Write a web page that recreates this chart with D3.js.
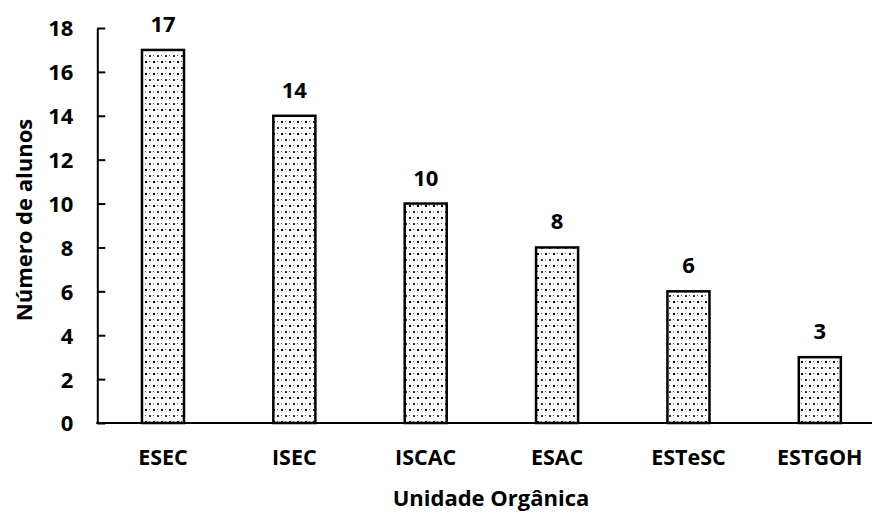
<!DOCTYPE html>
<html><head><meta charset="utf-8">
<script src="https://cdn.jsdelivr.net/npm/d3@7"></script>
<style>body{margin:0;background:#fff}</style>
</head><body>
<svg id="c" width="872" height="513"></svg>
<script>
const categories = ["ESEC","ISEC","ISCAC","ESAC","ESTeSC","ESTGOH"];
const values = [17,14,10,8,6,3];
const yTicks = [0,2,4,6,8,10,12,14,16,18];

const svg = d3.select("#c");
const font = "'Open Sans', sans-serif";
const x = d3.scaleBand().domain(categories).range([97.3, 885.5]).paddingInner(0.68).paddingOuter(0.34);
const y = d3.scaleLinear().domain([0,18]).range([423, 28]);

const defs = svg.append("defs");
const pat = defs.append("pattern").attr("id","dots").attr("patternUnits","userSpaceOnUse")
  .attr("width",8).attr("height",12);
pat.append("rect").attr("width",8).attr("height",12).attr("fill","#fff");
pat.append("rect").attr("x",1).attr("y",1).attr("width",2).attr("height",2).attr("fill","#000");
pat.append("rect").attr("x",5).attr("y",7).attr("width",2).attr("height",2).attr("fill","#333");
pat.append("rect").attr("x",5).attr("y",1).attr("width",1).attr("height",1).attr("fill","#555");
pat.append("rect").attr("x",1).attr("y",7).attr("width",1).attr("height",1).attr("fill","#555");

// bars
svg.selectAll("rect.bar").data(values).join("rect").attr("class","bar")
  .attr("x",(d,i)=>x(categories[i])).attr("width",x.bandwidth())
  .attr("y",d=>y(d)).attr("height",d=>y(0)-y(d))
  .attr("fill","url(#dots)").attr("stroke","#000").attr("stroke-width",2.5);

// axes
const yAxis = d3.axisLeft(y).tickValues(yTicks).tickSize(-8).tickPadding(24).tickSizeOuter(0);
const gy = svg.append("g").attr("transform","translate(97.3,0)").call(yAxis);
gy.selectAll("line").attr("stroke","#000").attr("stroke-width",2);
gy.select(".domain").attr("stroke","#000").attr("stroke-width",2);
gy.selectAll("text").attr("font-family",font).attr("font-weight","bold").attr("font-size",22).attr("fill","#000").attr("dy","0.36em");

const xAxis = d3.axisBottom(x).tickSize(0).tickPadding(27).tickSizeOuter(0);
const gx = svg.append("g").attr("transform","translate(0,423)").call(xAxis);
gx.select(".domain").remove();
gx.selectAll("text").attr("font-family",font).attr("font-weight","bold").attr("font-size",21.5).attr("fill","#000");
svg.append("line").attr("x1",96.3).attr("x2",872).attr("y1",423).attr("y2",423).attr("stroke","#000").attr("stroke-width",2);

// value labels
svg.selectAll("text.val").data(values).join("text").attr("class","val")
  .attr("x",(d,i)=>x(categories[i])+x.bandwidth()/2).attr("y",d=>y(d)-18)
  .attr("text-anchor","middle").attr("font-family",font).attr("font-weight","bold").attr("font-size",22)
  .text(d=>d);

// titles
svg.append("text").attr("x",491).attr("y",506).attr("text-anchor","middle")
  .attr("font-family",font).attr("font-weight","bold").attr("font-size",22).text("Unidade Orgânica");
svg.append("text").attr("transform","translate(32,220) rotate(-90)").attr("text-anchor","middle")
  .attr("font-family",font).attr("font-weight","bold").attr("font-size",22).text("Número de alunos");
</script>
</body></html>
